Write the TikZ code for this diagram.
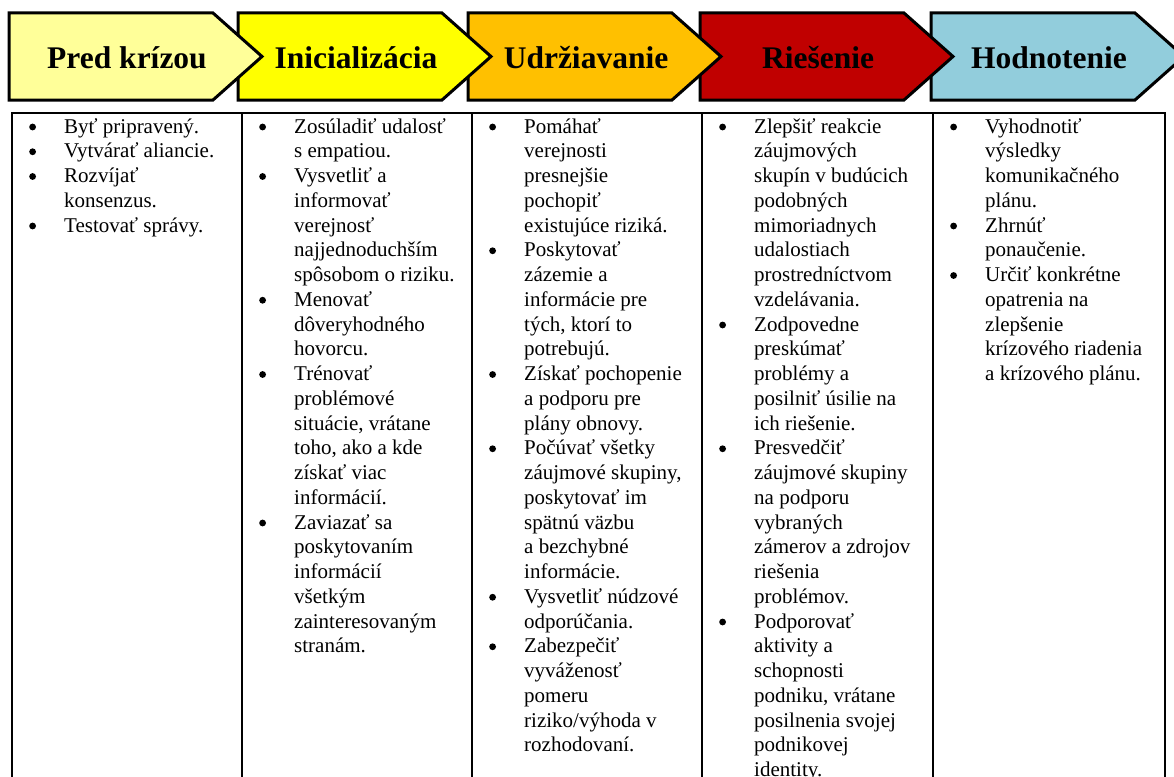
\documentclass[tikz,border=0pt]{standalone}
\usepackage{fontspec}
\setmainfont{Liberation Serif}
\definecolor{cPred}{HTML}{FFFF99}
\definecolor{cInic}{HTML}{FFFF00}
\definecolor{cUdrz}{HTML}{FFC000}
\definecolor{cRies}{HTML}{C00000}
\definecolor{cHodn}{HTML}{92CDDC}
\newcommand{\bul}{\tikz[baseline=0pt]\fill (2.5pt,6pt) circle[radius=3.4pt];}
\begin{document}
\begin{tikzpicture}[x=1pt,y=1pt,
  chev/.style={draw=black, line width=3pt, line join=miter},
  hdr/.style={anchor=base, inner sep=0pt, font=\bfseries\fontsize{31.5}{36}\selectfont},
  txt/.style={anchor=base west, inner sep=0pt, font=\fontsize{21}{24.75}\selectfont},
  gridline/.style={draw=black, line width=2pt}]
\useasboundingbox (0,0) rectangle (1174,-776);
\clip (0,0) rectangle (1174,-776);
% chevrons, drawn from right to left so each tip lies over the next one
\foreach \L/\c in {931/cHodn, 700/cRies, 468/cUdrz, 238/cInic, 9/cPred} {
  \filldraw[chev, fill=\c] (\L,-13) -- (\L+204,-13) -- (\L+253,-56.5) -- (\L+204,-100) -- (\L,-100) -- cycle;
}
\node[hdr] (h1) at (127,-68) {Pred krízou};
\node[hdr] (h2) at (356,-68) {Inicializácia};
\node[hdr] (h3) at (586,-68) {Udržiavanie};
\node[hdr] (h4) at (818,-68) {Riešenie};
\node[hdr] (h5) at (1049,-68) {Hodnotenie};
% table
\draw[gridline] (12,-780) -- (12,-113) -- (1165,-113) -- (1165,-780);
\foreach \x in {242,472,702,933} { \draw[gridline] (\x,-113) -- (\x,-780); }
% column 1
\node[txt] (c1) at (29,-133) {\begin{tabular}[t]{@{}p{35pt}@{}l@{}}
\bul & Byť pripravený.\\
\bul & Vytvárať aliancie.\\
\bul & Rozvíjať\\
 & konsenzus.\\
\bul & Testovať správy.
\end{tabular}};
% column 2
\node[txt] (c2) at (259,-133) {\begin{tabular}[t]{@{}p{35pt}@{}l@{}}
\bul & Zosúladiť udalosť\\
 & s empatiou.\\
\bul & Vysvetliť a\\
 & informovať\\
 & verejnosť\\
 & najjednoduchším\\
 & spôsobom o riziku.\\
\bul & Menovať\\
 & dôveryhodného\\
 & hovorcu.\\
\bul & Trénovať\\
 & problémové\\
 & situácie, vrátane\\
 & toho, ako a kde\\
 & získať viac\\
 & informácií.\\
\bul & Zaviazať sa\\
 & poskytovaním\\
 & informácií\\
 & všetkým\\
 & zainteresovaným\\
 & stranám.
\end{tabular}};
% column 3
\node[txt] (c3) at (489,-133) {\begin{tabular}[t]{@{}p{35pt}@{}l@{}}
\bul & Pomáhať\\
 & verejnosti\\
 & presnejšie\\
 & pochopiť\\
 & existujúce riziká.\\
\bul & Poskytovať\\
 & zázemie a\\
 & informácie pre\\
 & tých, ktorí to\\
 & potrebujú.\\
\bul & Získať pochopenie\\
 & a podporu pre\\
 & plány obnovy.\\
\bul & Počúvať všetky\\
 & záujmové skupiny,\\
 & poskytovať im\\
 & spätnú väzbu\\
 & a bezchybné\\
 & informácie.\\
\bul & Vysvetliť núdzové\\
 & odporúčania.\\
\bul & Zabezpečiť\\
 & vyváženosť\\
 & pomeru\\
 & riziko/výhoda v\\
 & rozhodovaní.
\end{tabular}};
% column 4
\node[txt] (c4) at (719,-133) {\begin{tabular}[t]{@{}p{35pt}@{}l@{}}
\bul & Zlepšiť reakcie\\
 & záujmových\\
 & skupín v budúcich\\
 & podobných\\
 & mimoriadnych\\
 & udalostiach\\
 & prostredníctvom\\
 & vzdelávania.\\
\bul & Zodpovedne\\
 & preskúmať\\
 & problémy a\\
 & posilniť úsilie na\\
 & ich riešenie.\\
\bul & Presvedčiť\\
 & záujmové skupiny\\
 & na podporu\\
 & vybraných\\
 & zámerov a zdrojov\\
 & riešenia\\
 & problémov.\\
\bul & Podporovať\\
 & aktivity a\\
 & schopnosti\\
 & podniku, vrátane\\
 & posilnenia svojej\\
 & podnikovej\\
 & identity.
\end{tabular}};
% column 5
\node[txt] (c5) at (950,-133) {\begin{tabular}[t]{@{}p{35pt}@{}l@{}}
\bul & Vyhodnotiť\\
 & výsledky\\
 & komunikačného\\
 & plánu.\\
\bul & Zhrnúť\\
 & ponaučenie.\\
\bul & Určiť konkrétne\\
 & opatrenia na\\
 & zlepšenie\\
 & krízového riadenia\\
 & a krízového plánu.
\end{tabular}};
\end{tikzpicture}
\end{document}
